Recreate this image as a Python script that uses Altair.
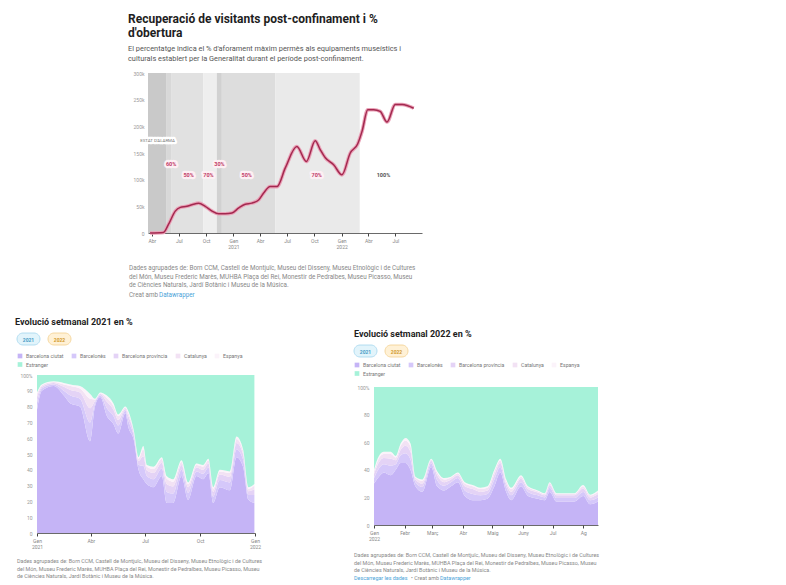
import altair as alt
import pandas as pd

# ---------------- data: top chart ----------------
visit_dates = ["2020-03-26", "2020-05-10", "2020-05-27", "2020-06-19", "2020-07-06", "2020-07-28",
               "2020-08-14", "2020-09-06", "2020-09-28", "2020-10-21", "2020-11-12", "2020-12-04",
               "2020-12-27", "2021-01-19", "2021-02-10", "2021-03-04", "2021-03-27", "2021-04-13",
               "2021-05-05", "2021-05-28", "2021-06-25", "2021-08-03", "2021-09-04", "2021-10-04",
               "2021-10-21", "2021-11-07", "2021-12-05", "2022-01-02", "2022-01-30", "2022-02-24",
               "2022-03-11", "2022-03-30", "2022-04-19", "2022-05-11", "2022-06-03", "2022-07-01",
               "2022-07-24", "2022-09-01"]
visitors = [0, 1000, 16000, 41000, 48000, 50000, 53000, 56000, 50000, 41000, 36000, 36000,
            37500, 47000, 54000, 56000, 62000, 75000, 87000, 87000, 122000, 162000, 134000, 173000,
            156000, 141000, 128000, 109000, 150000, 167000, 191000, 231000, 231000, 228000, 208000,
            241000, 241000, 234000]

phase_ids = ["tancat", "f60", "f50a", "f70a", "f30", "f50b", "f70b"]
phase_start = ["2020-03-19", "2020-05-21", "2020-06-07", "2020-09-22", "2020-11-06", "2020-11-23", "2021-05-22"]
phase_end = ["2020-05-21", "2020-06-07", "2020-09-22", "2020-11-06", "2020-11-23", "2021-05-22", "2022-03-03"]

pct_labels = ["60%", "50%", "70%", "30%", "50%", "70%"]
pct_dates = ["2020-06-05", "2020-08-03", "2020-10-09", "2020-11-15", "2021-02-15", "2021-10-09"]
pct_values = [130000, 109000, 109000, 130000, 109000, 109000]
full_label = ["100%"]
full_date = ["2022-05-22"]
full_value = [109000]
alarm_label = ["ESTAT D'ALARMA"]
alarm_date = ["2020-04-20"]
alarm_value = [172000]

top_ticks = ["2020-04-01", "2020-07-01", "2020-10-01", "2021-01-01", "2021-04-01", "2021-07-01",
             "2021-10-01", "2022-01-01", "2022-04-01", "2022-07-01"]
top_y_ticks = [0, 50000, 100000, 150000, 200000, 250000, 300000]

# ---------------- data: weekly composition ----------------
series_names = ["Barcelona ciutat", "Barcelonès", "Barcelona província", "Catalunya", "Espanya", "Estranger"]

dates21 = ["2021-01-01", "2021-01-09", "2021-01-29", "2021-02-15", "2021-02-26", "2021-03-14", "2021-03-31",
           "2021-04-08", "2021-04-17", "2021-04-28", "2021-05-09", "2021-05-17", "2021-05-29", "2021-06-03",
           "2021-06-12", "2021-06-20", "2021-06-28", "2021-07-04", "2021-07-15", "2021-07-29", "2021-08-06",
           "2021-08-17", "2021-08-31", "2021-09-11", "2021-09-25", "2021-10-06", "2021-10-15", "2021-10-23",
           "2021-11-03", "2021-11-20", "2021-12-01", "2021-12-12", "2021-12-21", "2021-12-31"]
ciutat21 = [78, 90, 93, 87, 82, 80, 58, 80, 86, 74, 69, 63, 76, 67, 59, 40, 34, 31, 29, 36,
            19, 19, 36, 21, 36, 34, 38, 19, 29, 27, 48, 42, 21, 19]
barcelones21 = [4.5, 1.5, 1, 3, 5, 5, 12, 2, 1, 5, 5, 5, 1.5, 4, 2.5, 3, 8.5, 5, 5, 5,
                7, 6, 4, 4.5, 3, 3.5, 3.5, 4, 4.5, 5, 5, 4.5, 3, 5]
provincia21 = [3.5, 1, 1, 2.5, 3.5, 4, 9, 1.5, 1, 4, 4, 3.5, 1, 3, 2, 2.5, 6, 3.5, 4, 3.5,
               5, 4.5, 3, 3.5, 2.5, 2.5, 2.5, 3, 3.5, 3.5, 4, 3.5, 2.5, 3.5]
catalunya21 = [2, 1, 0.5, 1.5, 2.5, 2.5, 6, 1, 0.5, 2.5, 2.5, 2.5, 1, 2, 1, 1.5, 4.5, 2.5, 2.5, 2.5,
               3.5, 3, 2, 2, 1.5, 2, 2, 2, 2, 2.5, 2.5, 2, 1.5, 2.5]
espanya21 = [1, 0.5, 0.5, 1, 1, 1.5, 3, 0.5, 0.5, 1.5, 1.5, 1, 0.5, 1, 0.5, 1, 2, 1, 1.5, 1,
             1.5, 1.5, 1, 1, 1, 1, 1, 1, 1, 1, 1.5, 1, 1, 1]
estranger21 = [11, 6, 4, 5, 6, 7, 12, 15, 11, 13, 18, 25, 20, 23, 35, 52, 45, 57, 58, 52,
               64, 66, 54, 68, 56, 57, 53, 71, 60, 61, 39, 47, 71, 69]

dates22 = ["2022-01-01", "2022-01-06", "2022-01-11", "2022-01-18", "2022-01-23", "2022-01-28", "2022-02-02",
           "2022-02-07", "2022-02-12", "2022-02-19", "2022-02-28", "2022-03-06", "2022-03-13", "2022-03-20",
           "2022-03-27", "2022-04-03", "2022-04-11", "2022-04-19", "2022-04-26", "2022-05-03", "2022-05-09",
           "2022-05-15", "2022-05-20", "2022-05-30", "2022-06-06", "2022-06-16", "2022-06-23", "2022-06-28",
           "2022-07-05", "2022-07-17", "2022-07-23", "2022-08-01", "2022-08-08", "2022-08-16"]
ciutat22 = [30, 35, 38, 36, 40, 45, 45, 40, 28, 24, 42, 28, 25, 28, 31, 21, 18, 18, 19, 28,
            38, 24, 18, 28, 21, 19, 18, 24, 17, 17, 17, 21, 15, 17]
barcelones22 = [4, 6, 6, 7, 4, 5.5, 7, 7.5, 3, 3.5, 2.5, 4.5, 3.5, 3, 3, 4, 4.5, 3.5, 3.5, 5,
                4, 3.5, 3.5, 3, 3, 2.5, 2, 3, 2.5, 2.5, 2.5, 3, 3, 3]
provincia22 = [3, 4.5, 4.5, 5, 3, 4, 5.5, 5.5, 2, 2.5, 2, 3.5, 2.5, 2, 2, 3, 3.5, 2.5, 2.5, 3.5,
               3, 2.5, 2.5, 2.5, 2, 2, 1.5, 2, 2, 2, 2, 2.5, 2, 2.5]
catalunya22 = [2, 3, 3, 3.5, 2, 3, 3.5, 4, 1.5, 2, 1, 2, 2, 1.5, 1.5, 2, 2, 2, 2, 2.5,
               2, 2, 2, 1.5, 1.5, 1, 1, 1.5, 1, 1, 1, 1.5, 1.5, 1.5]
espanya22 = [1, 1.5, 1.5, 1.5, 1, 1.5, 2, 2, 0.5, 1, 0.5, 1, 1, 0.5, 0.5, 1, 1, 1, 1, 1,
             1, 1, 1, 1, 0.5, 0.5, 0.5, 0.5, 0.5, 0.5, 0.5, 1, 0.5, 1]
estranger22 = [60, 50, 47, 47, 50, 41, 37, 41, 65, 67, 52, 61, 66, 65, 62, 69, 71, 73, 72, 60,
               52, 67, 73, 64, 72, 75, 77, 69, 77, 77, 77, 71, 78, 75]

ticks21 = ["2021-01-01", "2021-04-01", "2021-07-01", "2021-10-01", "2022-01-01"]
ticks22 = ["2022-01-01", "2022-02-01", "2022-03-01", "2022-04-01", "2022-05-01", "2022-06-01",
           "2022-07-01", "2022-08-01"]

MONTHS = ["Gen", "Febr", "Març", "Abr", "Maig", "Juny", "Jul", "Ag", "Set", "Oct", "Nov", "Des"]

SOURCE = ("Dades agrupades de: Born CCM, Castell de Montjuïc, Museu del Disseny, Museu Etnològic i de Cultures\n"
          "del Món, Museu Frederic Marès, MUHBA Plaça del Rei, Monestir de Pedralbes, Museu Picasso, Museu\n"
          "de Ciències Naturals, Jardí Botànic i Museu de la Música.")

# ---------------- styling ----------------
FONT = "Roboto"
phase_colors = ["#c9c9c9", "#d8d8d8", "#e1e1e1", "#eeeeee", "#d1d1d1", "#dddddd", "#eaeaea"]
series_colors = ["#c5b4f6", "#d5c8fa", "#e4d3f6", "#f2e2f4", "#fbf3fa", "#a6f2d9"]
BLUE = "#4aa3d8"
GREY = "#888888"


def ms(d):
    return int(pd.Timestamp(d, tz="UTC").value // 10**6)


MJS = "[" + ",".join("'%s'" % m for m in MONTHS) + "]"


def month_label_expr(first_tick):
    return ("(utcmonth(datum.value)==0 || datum.value==%d) ? [%s[utcmonth(datum.value)], ''+utcyear(datum.value)]"
            " : %s[utcmonth(datum.value)]" % (ms(first_tick), MJS, MJS))


def x_axis(ticks):
    return alt.Axis(values=[ms(t) for t in ticks], labelExpr=month_label_expr(ticks[0]), title=None,
                    grid=False, domainColor="#444", domainWidth=0.8, tickColor="#444", tickSize=3,
                    labelFontSize=5, labelColor="#888", labelPadding=2, labelLineHeight=6.5,
                    labelFont=FONT, labelFlush=False)


def text_layer(text, x, y, size, color, weight="normal", line_height=8):
    return alt.Chart(pd.DataFrame({"t": [text]})).mark_text(
        align="left", baseline="top", fontSize=size, color=color, font=FONT,
        fontWeight=weight, lineBreak="\n", lineHeight=line_height
    ).encode(x=alt.value(x), y=alt.value(y), text="t:N")


def invisible_top(y):
    return alt.Chart(pd.DataFrame({"t": [""]})).mark_rule(opacity=0, strokeOpacity=0, color="white").encode(
        x=alt.value(0), x2=alt.value(2), y=alt.value(y))


def pill(x0, x1, y0, y1, label, fill, stroke, tcolor):
    base = alt.Chart(pd.DataFrame({"t": [label]}))
    r = base.mark_rect(cornerRadius=6, fill=fill, stroke=stroke, strokeWidth=0.8).encode(
        x=alt.value(x0), x2=alt.value(x1), y=alt.value(y0), y2=alt.value(y1))
    t = base.mark_text(fontSize=5, color=tcolor, font=FONT, fontWeight="bold").encode(
        x=alt.value((x0 + x1) / 2), y=alt.value((y0 + y1) / 2 + 0.5), text="t:N")
    return [r, t]


# ---------------- top chart ----------------
OX = 111          # the plot starts this far right of the panel origin
W1, H1 = 274, 160
xs1 = alt.Scale(type="utc", domain=[ms("2020-03-19"), ms("2022-09-29")], range=[OX, OX + W1])
ys1 = alt.Scale(domain=[0, 300000])
xax1 = x_axis(top_ticks)
yax1 = alt.Axis(values=top_y_ticks, labelExpr="datum.value==0 ? '0' : (datum.value/1000)+'k'", title=None,
                grid=False, domain=False, ticks=False, labelFontSize=5, labelColor="#999",
                labelPadding=4, labelFont=FONT, offset=-OX)

phase_df = pd.DataFrame({"start": phase_start, "end": phase_end, "fase": phase_ids})
bands = alt.Chart(phase_df).mark_rect().encode(
    x=alt.X("start:T", scale=xs1, axis=xax1),
    x2="end:T",
    y=alt.value(0), y2=alt.value(H1),
    color=alt.Color("fase:N", scale=alt.Scale(domain=phase_ids, range=phase_colors), legend=None),
)

vis_df = pd.DataFrame({"date": visit_dates, "v": visitors})
enc_line = dict(x=alt.X("date:T", scale=xs1, axis=xax1), y=alt.Y("v:Q", scale=ys1, axis=yax1))
halo = alt.Chart(vis_df).mark_line(interpolate="monotone", color="#eaa2b8", strokeWidth=3.6).encode(**enc_line)
line = alt.Chart(vis_df).mark_line(interpolate="monotone", color="#a3294f", strokeWidth=1.5).encode(**enc_line)

pct_df = pd.DataFrame({"d": pct_dates, "v": pct_values, "t": pct_labels})
full_df = pd.DataFrame({"d": full_date, "v": full_value, "t": full_label})
alarm_df = pd.DataFrame({"d": alarm_date, "v": alarm_value, "t": alarm_label})


def annot(df, color, size, weight, bgcol):
    enc = dict(x=alt.X("d:T", scale=xs1, axis=xax1), y=alt.Y("v:Q", scale=ys1, axis=yax1), text="t:N")
    bg = alt.Chart(df).mark_text(fontSize=size, font=FONT, fontWeight=weight, color=bgcol,
                                 stroke=bgcol, strokeWidth=4.5, strokeJoin="round").encode(**enc)
    fg = alt.Chart(df).mark_text(fontSize=size, font=FONT, fontWeight=weight, color=color).encode(**enc)
    return [bg, fg]


top_layers = [bands, halo, line] + annot(pct_df, "#c23c69", 5.5, "bold", "#fdf0f4") \
    + annot(full_df, "#555555", 5.5, "bold", "#ffffff") \
    + annot(alarm_df, "#777777", 4.4, "normal", "#ffffff") + [
    text_layer(SOURCE, OX - 19, H1 + 32, 6.3, GREY, line_height=8.5),
    text_layer("Creat amb", OX - 19, H1 + 59, 6.3, GREY),
    text_layer("Datawrapper", OX + 11, H1 + 59, 6.3, BLUE),
]

top = alt.layer(*top_layers).properties(
    width=W1 + OX, height=H1,
    title=alt.TitleParams(
        text=["Recuperació de visitants post-confinament i %", "d'obertura"],
        subtitle=["El percentatge indica el % d'aforament màxim permès als equipaments museístics i",
                  "culturals establert per la Generalitat durant el període post-confinament."],
        anchor="start", frame="group", dx=OX - 20, font=FONT, fontSize=12, fontWeight="bold",
        color="#1e1e1e", lineHeight=13.5, subtitleFont=FONT, subtitleFontSize=7.4,
        subtitleColor="#555555", subtitleLineHeight=10, subtitlePadding=5, offset=8),
).resolve_scale(color="independent")


# ---------------- stacked composition charts ----------------
def comp_chart(dates, series, domain, ticks, W, H, plot_top, y_ticks, title_text, title_x, legend_y,
               foot_y, extra_foot):
    frames = []
    for i, (name, vals) in enumerate(zip(series_names, series)):
        frames.append(pd.DataFrame({"date": dates, "serie": name, "ord": i, "value": vals}))
    df = pd.concat(frames, ignore_index=True)
    xs = alt.Scale(type="utc", domain=[ms(domain[0]), ms(domain[1])])
    o = plot_top
    area = alt.Chart(df).mark_area(interpolate="monotone").encode(
        x=alt.X("date:T", scale=xs, axis=x_axis(ticks)),
        y=alt.Y("value:Q", stack="normalize", scale=alt.Scale(domain=[0, 1], range=[H, o]),
                axis=alt.Axis(values=y_ticks, title=None, grid=False, domain=False, ticks=False,
                              labelExpr="datum.value==1 ? '100%' : format(datum.value*100,'d')",
                              labelFontSize=5, labelColor="#999", labelPadding=5, labelFont=FONT)),
        color=alt.Color("serie:N", scale=alt.Scale(domain=series_names, range=series_colors),
                        legend=alt.Legend(title=None, orient="none", legendX=-20, legendY=o + legend_y,
                                          direction="horizontal", columns=5, gridAlign="none",
                                          symbolType="square", symbolSize=22, symbolStrokeWidth=0.6,
                                          labelFontSize=5.2, labelColor="#777", labelFont=FONT,
                                          labelOffset=3, columnPadding=7, rowPadding=1.5,
                                          labelLimit=200)),
        order=alt.Order("ord:Q", sort="ascending"),
    )
    title = alt.Chart(pd.DataFrame({"t": [title_text]})).mark_text(
        align="left", baseline="alphabetic", fontSize=9, fontWeight="bold", font=FONT, color="#1e1e1e"
    ).encode(x=alt.value(title_x), y=alt.value(o - 50), text="t:N")
    layers = [invisible_top(o - 60), area, title]
    layers += pill(-20, 3, o - 42, o - 30, "2021", "#e2f4fb", "#a3d6ee", "#4a9cc7")
    layers += pill(11, 34, o - 42, o - 30, "2022", "#fff1d6", "#f2cf8e", "#d29a2e")
    layers.append(text_layer(SOURCE, -20, H + foot_y, 5.4, GREY, line_height=7.5))
    if extra_foot:
        layers.append(text_layer("Descarregar les dades", -20, H + foot_y + 22.5, 5.4, BLUE))
        layers.append(text_layer("• Creat amb", 37, H + foot_y + 22.5, 5.4, GREY))
        layers.append(text_layer("Datawrapper", 66, H + foot_y + 22.5, 5.4, BLUE))
    return alt.layer(*layers).properties(width=W, height=H)


left = comp_chart(dates21, [ciutat21, barcelones21, provincia21, catalunya21, espanya21, estranger21],
                  ["2021-01-01", "2022-01-01"], ticks21, 218, 158, 0, [i / 10 for i in range(11)],
                  "Evolució setmanal 2021 en %", -22, -22, 26, False)
right = comp_chart(dates22, [ciutat22, barcelones22, provincia22, catalunya22, espanya22, estranger22],
                   ["2022-01-01", "2022-08-16"], ticks22, 224, 150, 12, [0, 0.2, 0.4, 0.6, 0.8, 1],
                   "Evolució setmanal 2022 en %", -20, -25, 28, True)

bottom_row = alt.hconcat(left, right, spacing=90).resolve_scale(color="independent").resolve_legend(color="independent")

chart = alt.vconcat(top, bottom_row, spacing=16).resolve_scale(color="independent").resolve_legend(
    color="independent").properties(
    padding={"left": 7, "top": 5, "right": 0, "bottom": 0}, background="white"
).configure(font=FONT).configure_view(strokeWidth=0, stroke="transparent")

chart.save("out.html", embed_options={"renderer": "svg", "actions": False})
